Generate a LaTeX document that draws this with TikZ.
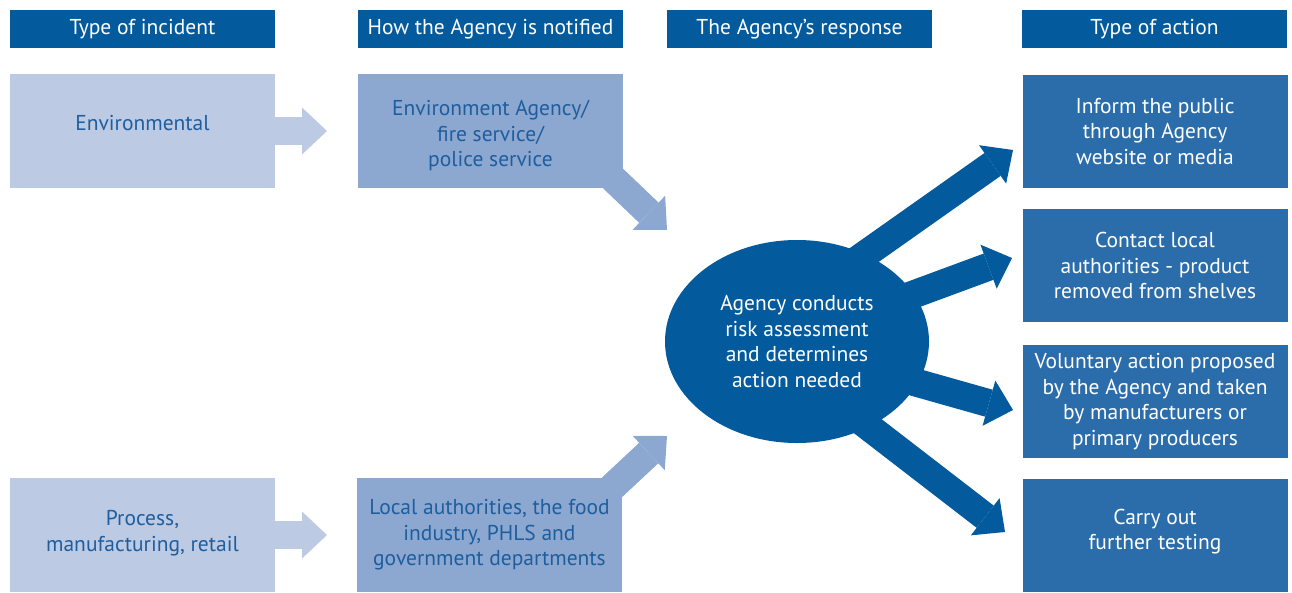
\documentclass[tikz,border=0pt]{standalone}
\usepackage{fontspec}
\setmainfont{PT Sans}
\usetikzlibrary{arrows.meta,shapes.geometric,backgrounds}
\definecolor{hdr}{HTML}{035A9C}
\definecolor{lightbx}{HTML}{BDCAE3}
\definecolor{midbx}{HTML}{8CA8D1}
\definecolor{actbx}{HTML}{2B6DAA}
\definecolor{txtblue}{HTML}{1E5E9E}
\begin{document}
\begin{tikzpicture}[x=1pt,y=-1pt,
  box/.style={rectangle,inner sep=0pt,outer sep=0pt,minimum width=265pt,align=center,font=\fontsize{21.5}{25.5}\selectfont},
  header/.style={box,fill=hdr,text=white,minimum height=38pt},
  incbox/.style={box,fill=lightbx,text=txtblue,minimum height=114pt},
  notbox/.style={box,fill=midbx,text=txtblue,minimum height=114pt},
  actbox/.style={box,fill=actbx,text=white,minimum height=113pt},
  fat/.style={line width=28pt,-{Triangle[width=47pt,length=25pt,line width=0pt]}},
]
\useasboundingbox (0,0) rectangle (1292,592);
% headers
\node[header] (h1) at (142.5,29) {Type of incident};
\node[header] (h2) at (490.5,29) {How the Agency is notified};
\node[header] (h3) at (799.5,29) {The Agency's response};
\node[header] (h4) at (1154.5,29) {Type of action};
% incident boxes
\node[incbox,text depth=16pt] (env) at (142.5,131) {Environmental};
\node[incbox,text depth=8pt] (proc) at (142.5,535) {Process,\\manufacturing, retail};
% notification boxes
\node[notbox] (n1) at (490.5,131) {\strut\\[-19pt]Environment Agency/\\fire service/\\police service};
\node[notbox] (n2) at (489.5,535) {Local authorities, the food\\industry, PHLS and\\government departments};
% response
\node[ellipse,fill=hdr,text=white,inner sep=0pt,outer sep=0pt,minimum width=264pt,minimum height=203pt,align=center,font=\fontsize{21.5}{25.5}\selectfont] (ell) at (797,341.5) {Agency conducts\\risk assessment\\and determines\\action needed};
% actions
\node[actbox] (a1) at (1155,131.5) {Inform the public\\through Agency\\website or media};
\node[actbox] (a2) at (1155,265.5) {Contact local\\authorities - product\\removed from shelves};
\node[actbox] (a3) at (1155,401.5) {Voluntary action proposed\\by the Agency and taken\\by manufacturers or\\primary producers};
\node[actbox,text depth=12pt] (a4) at (1155,535.5) {Carry out\\further testing};
% arrow tips
\coordinate (t1) at (667,230);
\coordinate (t2) at (667,436);
\coordinate (r1) at (1013,150);
\coordinate (r2) at (1012,258);
\coordinate (r3) at (1013,410);
\coordinate (r4) at (1005,532);
% left arrows
\draw[fat,color=lightbx,shorten >=31pt] (env.east) -- (n1.west);
\draw[fat,color=lightbx,shorten >=30pt] (proc.east) -- (n2.west);
% diagonal arrows
\draw[fat,color=midbx,shorten <=-20pt] (n1.south east) -- (t1);
\draw[fat,color=midbx,shorten <=-20pt] (n2.north east) -- (t2);
% right arrows
\begin{pgfonlayer}{background}
\draw[fat,color=hdr,shorten <=-30pt] (ell.52) -- (r1);
\draw[fat,color=hdr,shorten <=-30pt] (ell.22) -- (r2);
\draw[fat,color=hdr,shorten <=-30pt] (ell.-19) -- (r3);
\draw[fat,color=hdr,shorten <=-30pt] (ell.-50) -- (r4);
\end{pgfonlayer}
\end{tikzpicture}
\end{document}
